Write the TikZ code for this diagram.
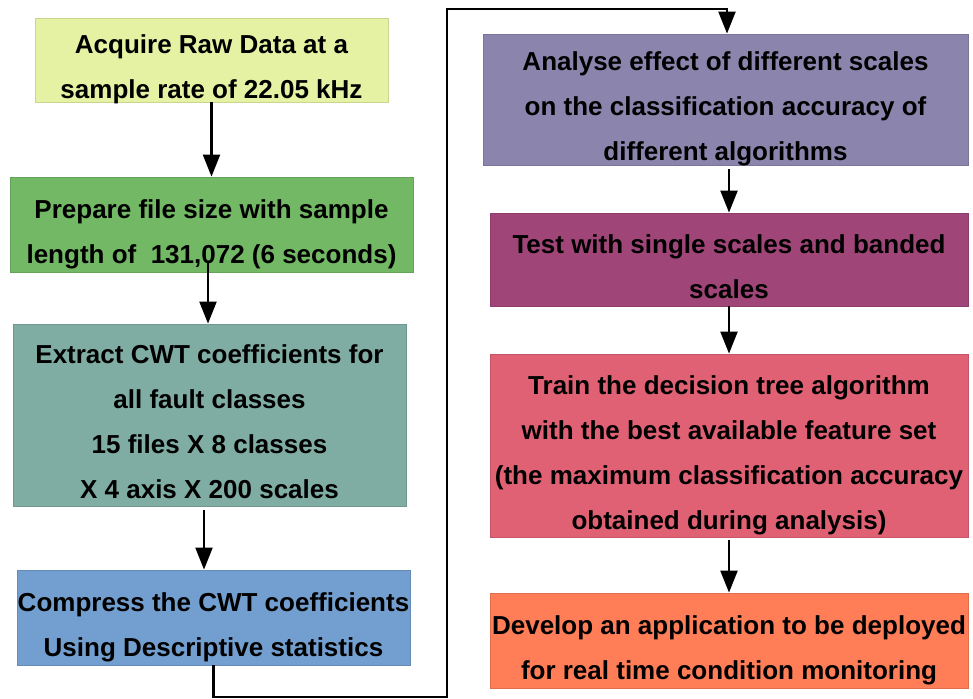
\documentclass[tikz,border=0pt]{standalone}
\usepackage{fontspec}
\setmainfont{Liberation Sans}
\usetikzlibrary{arrows.meta}
\definecolor{acqcol}{HTML}{E6F2A3}
\definecolor{prepcol}{HTML}{72B865}
\definecolor{cwtcol}{HTML}{80ADA3}
\definecolor{compcol}{HTML}{729FCF}
\definecolor{anacol}{HTML}{8B85AE}
\definecolor{testcol}{HTML}{A04578}
\definecolor{traincol}{HTML}{E06174}
\definecolor{devcol}{HTML}{FF7D57}
\newcommand{\boxtext}[1]{\raisebox{-3.75pt}[\height][\depth]{\begin{tabular}{@{}c@{}}#1\end{tabular}}}
\tikzset{box/.style = {shape=rectangle,draw=#1!88!black,fill=#1,inner xsep=0pt,inner ysep=-2pt}}
\tikzset{flow/.style = {-{Triangle[length=11pt,width=8.5pt]},line width=1.1pt}}

\begin{document}
\begin{tikzpicture}[x=0.5pt,y=-0.5pt,font=\fontsize{13}{22.5}\selectfont\bfseries]
        \useasboundingbox (0,0) rectangle (973,699);

        % left column
        \node[box=acqcol,minimum width=176.5pt,minimum height=42pt] (acquire) at (211.5,60)
            {\boxtext{Acquire Raw Data at a\\sample rate of 22.05 kHz}};
        \node[box=prepcol,minimum width=201.5pt,minimum height=47.5pt] (prepare) at (211.5,224.5)
            {\boxtext{Prepare file size with sample\\length of~\ 131,072 (6 seconds)}};
        \node[box=cwtcol,minimum width=196.5pt,minimum height=91pt] (extract) at (209.5,415)
            {\boxtext{Extract CWT coefficients for\\all fault classes\\15 files X 8 classes\\X 4 axis X 200 scales}};
        \node[box=compcol,minimum width=196.5pt,minimum height=47.5pt] (compress) at (213.5,617.5)
            {\boxtext{Compress the CWT coefficients\\Using Descriptive statistics}};

        % right column
        \node[box=anacol,minimum width=242.5pt,minimum height=65.5pt] (analyse) at (725.5,99.5)
            {\boxtext{Analyse effect of different scales\\on the classification accuracy of\\different algorithms}};
        \node[box=testcol,minimum width=239pt,minimum height=46.5pt] (test) at (729,259.5)
            {\boxtext{Test with single scales and banded\\scales}};
        \node[box=traincol,minimum width=239pt,minimum height=91.5pt] (train) at (729,445.5)
            {\boxtext{Train the decision tree algorithm\\with the best available feature set\\(the maximum classification accuracy\\obtained during analysis)}};
        \node[box=devcol,minimum width=239pt,minimum height=47.5pt] (develop) at (729,640.5)
            {\boxtext{Develop an application to be deployed\\for real time condition monitoring}};

        \coordinate (low) at (447,697);
        \coordinate (high) at (447,9);

        \draw[flow] (acquire) -- (prepare);
        \draw[flow] ([xshift=-1.75pt,yshift=4.5pt]prepare.south) -- ([xshift=-1.75pt]prepare.south |- extract.north);
        \draw[flow,shorten <=2pt] ([xshift=-2.75pt]extract.south) -- ([xshift=-2.75pt]extract.south |- compress.north);
        \draw[flow] (compress.south) |- (low) -- (high) -| ([xshift=0.75pt]analyse.north);
        \draw[flow,shorten <=2pt] (analyse.south -| test.north) -- (test);
        \draw[flow] (test) -- (train);
        \draw[flow,shorten <=1.5pt] (train) -- (develop);
      \end{tikzpicture}
\end{document}
